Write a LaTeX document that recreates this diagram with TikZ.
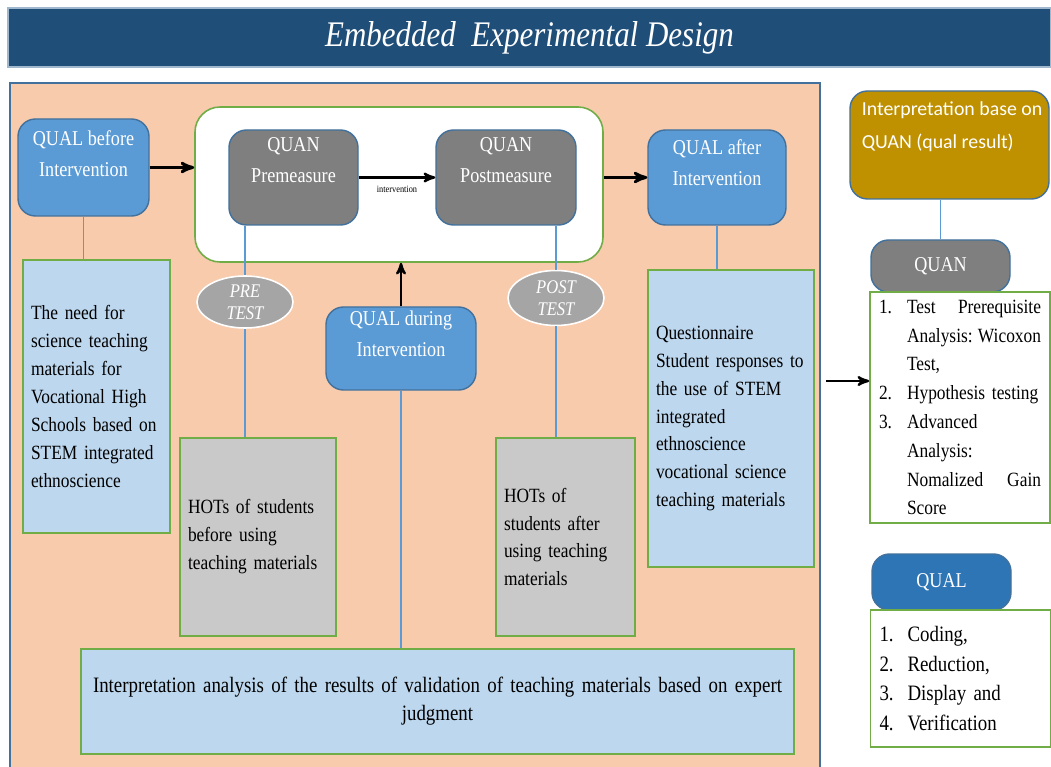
\documentclass[tikz,border=0pt]{standalone}
\usepackage{fontspec}
\setmainfont{Liberation Serif}[FakeStretch=0.86]
\newfontfamily\calibri{Carlito}
\usetikzlibrary{arrows,positioning,shapes.geometric}

\definecolor{bannerblue}{RGB}{31,78,121}
\definecolor{peach}{RGB}{248,203,173}
\definecolor{edgeblue}{RGB}{65,113,156}
\definecolor{qualblue}{RGB}{91,155,213}
\definecolor{qualdark}{RGB}{46,117,182}
\definecolor{quangray}{RGB}{127,127,127}
\definecolor{paleblue}{RGB}{189,215,238}
\definecolor{hotsgray}{RGB}{201,201,201}
\definecolor{ellgray}{RGB}{165,165,165}
\definecolor{boxgreen}{RGB}{112,173,71}
\definecolor{gold}{RGB}{191,144,0}

\newcommand{\lnum}[1]{\makebox[0.56cm][l]{#1}}
\newcommand{\lind}{\hspace*{0.56cm}}

\begin{document}
\begin{tikzpicture}[>=stealth',semithick]
  \tikzstyle{qual}=[draw=edgeblue,line width=0.8pt,fill=qualblue,rounded corners=0.35cm,inner sep=0pt]
  \tikzstyle{quan}=[qual,fill=quangray]
  \tikzstyle{wtxt}=[text=white,align=center,inner sep=0pt,font=\fontsize{12}{17.5}\selectfont]
  \tikzstyle{note}=[draw=boxgreen,line width=0.9pt,fill=paleblue,align=left,inner xsep=0.16cm,inner ysep=0pt,
                    font=\fontsize{11.5}{15.9}\selectfont]
  \tikzstyle{hots}=[note,fill=hotsgray]
  \tikzstyle{test}=[ellipse,draw=white,line width=0.9pt,fill=ellgray,text=white,inner sep=0pt,
                    align=center,font=\fontsize{11}{12.5}\selectfont\itshape,minimum width=1.92cm]
  \tikzstyle{steps}=[draw=boxgreen,line width=0.9pt,fill=white,align=left,inner xsep=0.18cm,inner ysep=0pt]
  \tikzstyle{link}=[draw=qualblue,line width=0.7pt]
  \tikzstyle{arr}=[->,line width=1.6pt]

  \useasboundingbox (0,0) rectangle (21.02,-15.34);

  % title and panel
  \node[fill=bannerblue,draw=edgeblue!50,minimum width=20.86cm,minimum height=1.18cm,inner sep=0pt,text=white,
        font=\fontsize{20.5}{22}\selectfont\itshape] (title) at (10.59,-0.75) {Embedded\ \ Experimental Design};
  \node[fill=peach,draw=edgeblue,line width=0.8pt,minimum width=16.2cm,minimum height=13.8cm,inner sep=0pt]
        (panel) at (8.3,-8.56) {};
  \node[fill=white,draw=boxgreen,line width=0.9pt,rounded corners=0.5cm,minimum width=8.16cm,minimum height=3.1cm]
        (wb) at (7.98,-3.69) {};

  % top row
  \node[qual,minimum width=2.62cm,minimum height=1.94cm] (qb) at (1.67,-3.35) {};
  \node[wtxt,below=0.24cm of qb.north] (qbt) {QUAL before\\Intervention};
  \node[quan,minimum width=2.58cm,minimum height=1.9cm] (qpre) at (5.87,-3.55) {};
  \node[wtxt,below=0.16cm of qpre.north] (qpret) {QUAN\\Premeasure};
  \node[quan,minimum width=2.8cm,minimum height=1.9cm] (qpost) at (10.12,-3.55) {};
  \node[wtxt,below=0.16cm of qpost.north] (qpostt) {QUAN\\Postmeasure};
  \node[qual,minimum width=2.76cm,minimum height=1.9cm] (qa) at (14.34,-3.55) {};
  \node[wtxt,below=0.2cm of qa.north] (qat) {QUAL after\\Intervention};
  \node[qual,minimum width=3cm,minimum height=1.66cm] (qd) at (8.02,-6.97) {};
  \node[wtxt,below=0.08cm of qd.north] (qdt) {QUAL during\\Intervention};

  % tests
  \node[test,minimum height=1.04cm] (pre) at (4.9,-6.04) {PRE\\TEST};
  \node[test,minimum height=1.1cm] (post) at (11.12,-5.96) {POST\\TEST};

  % notes
  \node[note,text width=2.62cm,minimum height=5.46cm] (need) at (1.93,-7.93)
       {The need for\\science teaching\\materials for\\Vocational High\\Schools based on\\STEM integrated\\ethnoscience};
  \node[hots,text width=2.8cm,minimum height=3.96cm] (hb) at (5.16,-10.74)
       {HOTs of students\\before using\\teaching materials};
  \node[hots,text width=2.46cm,minimum height=3.96cm] (ha) at (11.31,-10.74)
       {HOTs of\\students after\\using teaching\\materials};
  \node[note,text width=3cm,minimum height=5.94cm] (qs) at (14.62,-8.37)
       {Questionnaire\\Student responses to\\the use of STEM\\integrated\\ethnoscience\\vocational science\\teaching materials};
  \node[note,align=center,text width=13.94cm,minimum height=2.1cm,font=\fontsize{12.5}{15.9}\selectfont] (ia) at (8.75,-14.03)
       {Interpretation analysis of the results of validation of teaching materials based on expert\\judgment};

  % right column
  \node[qual,fill=gold,minimum width=3.98cm,minimum height=2.16cm] (ib) at (18.99,-2.9) {};
  \node[text=white,align=left,inner sep=0pt,anchor=north west,font=\calibri\fontsize{11.3}{19}\selectfont]
       (ibt) [below right=0.22cm and 0.24cm of ib.north west] {Interpretation base on\\QUAN (qual result)};
  \node[quan,minimum width=2.78cm,minimum height=1.04cm,text=white,font=\fontsize{12}{13}\selectfont]
       (qnh) at (18.81,-5.32) {QUAN};
  \node[steps,text width=3.24cm,minimum height=4.62cm,font=\fontsize{11.5}{16.4}\selectfont] (qnl) at (19.2,-8.15)
       {\lnum{1.}Test\hfill Prerequisite\\
        \lind Analysis:\hfill Wicoxon\\
        \lind Test,\\
        \lnum{2.}Hypothesis testing\\
        \lnum{3.}Advanced\\
        \lind Analysis:\\
        \lind Nomalized\hfill Gain\\
        \lind Score};
  \node[qual,fill=qualdark,minimum width=2.78cm,minimum height=1.12cm,text=white,font=\fontsize{12}{13}\selectfont]
       (qlh) at (18.83,-11.64) {QUAL};
  \node[steps,text width=3.24cm,minimum height=2.74cm,font=\fontsize{12.5}{17}\selectfont] (qll) at (19.21,-13.57)
       {\lnum{1.}Coding,\\
        \lnum{2.}Reduction,\\
        \lnum{3.}Display and\\
        \lnum{4.}Verification};

  % connectors
  \coordinate (out) at (16.52,-7.62);
  \path[link] (qb.south) -- (qb.south |- need.north)
              (pre.north) -- (pre.north |- qpre.south)
              (pre.south) -- (pre.south |- hb.north)
              (post.north) -- (post.north |- qpost.south)
              (post.south) -- (post.south |- ha.north)
              (qa.south) -- (qa.south |- qs.north)
              (qd.south) -- (qd.south |- ia.north)
              (qnh.north) -- (qnh.north |- ib.south);
  \draw[arr] (qb.east) -- (qb.east -| wb.west);
  \draw[arr] (wb.east |- qa.west) -- (qa.west);
  \draw[->,line width=1.3pt] (qpre.east) -- node[below=1pt,font=\fontsize{5.5}{6}\selectfont] (iv) {intervention} (qpost.west);
  \draw[->,line width=1.3pt] (qd.north) -- (qd.north |- wb.south);
  \draw[->,line width=1.3pt] (out) -- (out -| qnl.west);
\end{tikzpicture}
\end{document}
